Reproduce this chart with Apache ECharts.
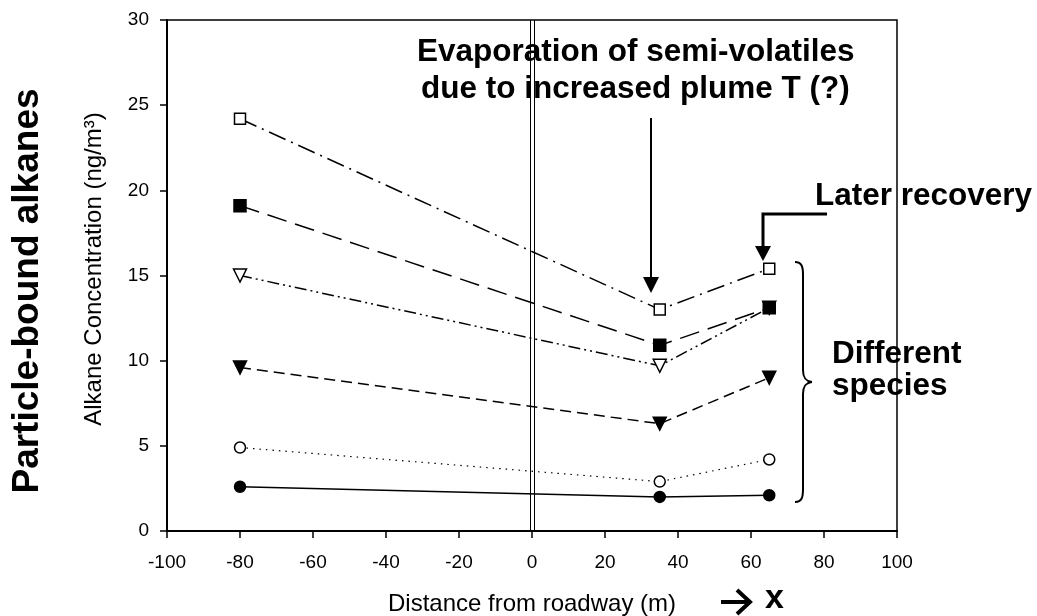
<!DOCTYPE html>
<html>
<head>
<meta charset="utf-8">
<script src="https://cdn.jsdelivr.net/npm/echarts@6/dist/echarts.min.js"></script>
<style>html,body{margin:0;padding:0;background:#fff}#c{width:1037px;height:616px}</style>
</head>
<body>
<div id="c"></div>
<script>
var distances = [-80, 35, 65];
var openSquare = [24.2, 13.0, 15.4];
var filledSquare = [19.1, 10.9, 13.1];
var openTriangle = [15.0, 9.7, 13.1];
var filledTriangle = [9.6, 6.3, 9.0];
var openCircle = [4.9, 2.9, 4.2];
var filledCircle = [2.6, 2.0, 2.1];
var roadwayEdges = [-0.6, 0.5];
var xTicks = [-100, -80, -60, -40, -20, 0, 20, 40, 60, 80, 100];
var yTicks = [0, 5, 10, 15, 20, 25, 30];

var FONT = '"Liberation Sans", Arial, sans-serif';
function pairs(vals){ return distances.map(function(d,i){ return [d, vals[i]]; }); }
function mk(name, vals, symbol, filled, dash, size, rot, lw){
  return {
    name: name, type: 'line', data: pairs(vals),
    symbol: symbol, symbolSize: size, symbolRotate: rot || 0,
    lineStyle: {color: '#000', width: lw || 1.5, type: dash},
    itemStyle: {color: filled ? '#000' : '#fff', borderColor: '#000', borderWidth: 1.5, opacity: 1},
    emphasis: {disabled: true}, animation: false, z: 3
  };
}
var series = [
  mk('open triangle', openTriangle, 'triangle', false, [12,4,2,4,2,4], 13, 180),
  mk('open square', openSquare, 'rect', false, [18,6,2,6], 11),
  mk('filled square', filledSquare, 'rect', true, [20,9], 12),
  mk('filled triangle', filledTriangle, 'triangle', true, [11,6], 13, 180),
  mk('open circle', openCircle, 'circle', false, [1.5,5], 11, 0, 1.2),
  mk('filled circle', filledCircle, 'circle', true, 'solid', 11),
  {
    type: 'line', data: [], silent: true,
    markLine: {
      symbol: 'none', silent: true, animation: false,
      label: {show: false},
      lineStyle: {color: '#000', width: 1, type: 'solid'},
      data: roadwayEdges.map(function(v){ return {xAxis: v}; })
    }
  }
];

function bz(a, c1, c2, b){
  return {type: 'bezierCurve', shape: {x1: a[0], y1: a[1], cpx1: c1[0], cpy1: c1[1], cpx2: c2[0], cpy2: c2[1], x2: b[0], y2: b[1]},
          style: {stroke: '#000', lineWidth: 2, fill: null}};
}
function ln(a, b, w){
  return {type: 'line', shape: {x1: a[0], y1: a[1], x2: b[0], y2: b[1]}, style: {stroke: '#000', lineWidth: w || 2}};
}

var chart = echarts.init(document.getElementById('c'), null, {renderer: 'canvas'});
chart.setOption({
  animation: false,
  backgroundColor: '#fff',
  grid: {left: 167, right: 140, top: 20, bottom: 85, containLabel: false, outerBoundsMode: 'none',
         show: true, borderColor: '#000', borderWidth: 1.5, backgroundColor: 'transparent'},
  xAxis: {
    type: 'value', min: xTicks[0], max: xTicks[xTicks.length-1], interval: 20,
    name: 'Distance from roadway (m)', nameLocation: 'middle', nameGap: 61,
    nameTextStyle: {color: '#000', fontSize: 24, fontFamily: FONT},
    axisLine: {onZero: false, lineStyle: {color: '#000', width: 2}},
    axisTick: {inside: false, length: 7, lineStyle: {color: '#000', width: 1.5}},
    axisLabel: {color: '#000', fontSize: 19, fontFamily: FONT, margin: 22},
    splitLine: {show: false}
  },
  yAxis: {
    type: 'value', min: yTicks[0], max: yTicks[yTicks.length-1], interval: 5,
    axisLine: {show: true, onZero: false, lineStyle: {color: '#000', width: 2}},
    axisTick: {show: true, inside: false, length: 7, lineStyle: {color: '#000', width: 1.5}},
    axisLabel: {color: '#000', fontSize: 19, fontFamily: FONT, margin: 18},
    splitLine: {show: false}
  },
  series: series,
  graphic: [
    {type: 'text', x: 28, y: 291, rotation: Math.PI/2,
     style: {text: 'Particle-bound alkanes', font: 'bold 37px ' + FONT, fill: '#000', textAlign: 'center', textVerticalAlign: 'middle'}},
    {type: 'text', x: 94, y: 269, rotation: Math.PI/2,
     style: {text: 'Alkane Concentration (ng/m\u00B3)', font: '24px ' + FONT, fill: '#000', textAlign: 'center', textVerticalAlign: 'middle'}},
    {type: 'text', x: 417, y: 52, z: 10,
     style: {text: 'Evaporation of semi-volatiles', font: 'bold 31.5px ' + FONT, fill: '#000', textAlign: 'left', textVerticalAlign: 'middle'}},
    {type: 'text', x: 421, y: 89, z: 10,
     style: {text: 'due to increased plume T (?)', font: 'bold 31.5px ' + FONT, fill: '#000', textAlign: 'left', textVerticalAlign: 'middle'}},
    {type: 'text', x: 815, y: 196, z: 10,
     style: {text: 'Later recovery', font: 'bold 31.5px ' + FONT, fill: '#000', textAlign: 'left', textVerticalAlign: 'middle'}},
    {type: 'text', x: 832, y: 354, z: 10,
     style: {text: 'Different', font: 'bold 31.5px ' + FONT, fill: '#000', textAlign: 'left', textVerticalAlign: 'middle'}},
    {type: 'text', x: 832, y: 386, z: 10,
     style: {text: 'species', font: 'bold 31.5px ' + FONT, fill: '#000', textAlign: 'left', textVerticalAlign: 'middle'}},
    {type: 'text', x: 765, y: 599,
     style: {text: 'x', font: 'bold 34px ' + FONT, fill: '#000', textAlign: 'left', textVerticalAlign: 'middle'}},
    ln([721,602],[749,602],4),
    {type: 'polyline', shape: {points: [[737,590],[750,602],[737,614]]}, style: {stroke: '#000', lineWidth: 4, fill: null}},
    ln([651,118],[651,280],2),
    {type: 'polygon', shape: {points: [[643,277],[659,277],[651,293]]}, style: {fill: '#000'}},
    {type: 'polyline', shape: {points: [[827,214],[763,214],[763,248]]}, style: {stroke: '#000', lineWidth: 3, fill: null}},
    {type: 'polygon', shape: {points: [[755,246],[771,246],[763,261]]}, style: {fill: '#000'}},
    bz([795,262],[802,262],[803,267],[803,275]),
    ln([803,275],[803,370],2),
    bz([803,370],[803,377],[805,381],[812,382]),
    bz([812,382],[805,383],[803,387],[803,394]),
    ln([803,394],[803,489],2),
    bz([803,489],[803,497],[802,502],[795,502])
  ]
});
</script>
</body>
</html>
